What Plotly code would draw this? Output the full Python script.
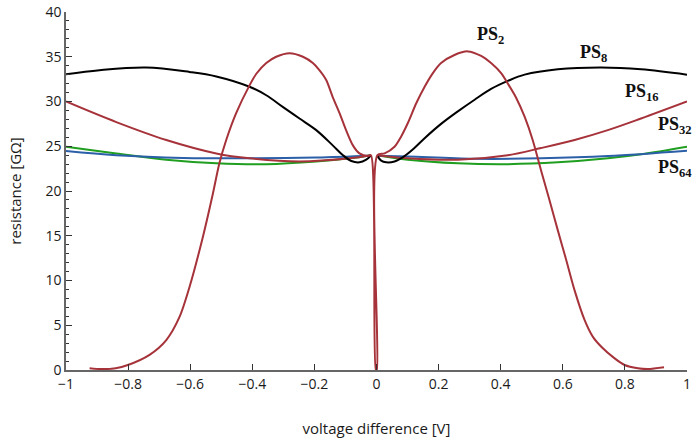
import plotly.graph_objects as go

# ---- data ----
ps2_x = [-0.924, -0.886, -0.84, -0.801, -0.731, -0.677, -0.634, -0.602, -0.559, -0.527, -0.506, -0.484,
         -0.452, -0.409, -0.387, -0.355, -0.323, -0.28, -0.237, -0.205, -0.184, -0.162, -0.141, -0.119,
         -0.098, -0.076, -0.055, -0.028, -0.018, -0.002, 0.001, 0.003,
         0.026, 0.058, 0.0795, 0.101, 0.128, 0.155, 0.181, 0.208, 0.251, 0.294, 0.337, 0.369, 0.402,
         0.423, 0.450, 0.477, 0.503, 0.530, 0.557, 0.584, 0.611, 0.638, 0.670, 0.697, 0.724, 0.767,
         0.799, 0.842, 0.874, 0.926]
ps2_y = [0.2, 0.1, 0.2, 0.56, 1.7, 3.35, 5.96, 9.3, 14.9, 19.7, 23.1, 25.7,
         28.7, 31.8, 33.1, 34.3, 35.0, 35.4, 35.0, 34.3, 33.5, 32.4, 30.5, 28.7,
         26.8, 25.1, 24.2, 23.9, 24.0, 0.0, 0.0, 24.0,
         24.2, 24.95, 26.1, 27.6, 29.8, 31.65, 33.15, 34.3, 35.2, 35.6, 35.1, 34.3, 33.15,
         32.0, 30.4, 28.3, 25.7, 22.3, 19.0, 15.6, 12.3, 8.9, 5.6, 3.7, 2.6, 1.3,
         0.56, 0.19, 0.1, 0.3]

ps8_x = [-1.0, -0.892, -0.742, -0.602, -0.516, -0.409, -0.355, -0.302, -0.248, -0.194, -0.141, -0.108,
         -0.081, -0.055, -0.033, -0.018,
         None,
         0.002, 0.015, 0.031, 0.058, 0.090, 0.122, 0.155, 0.208, 0.262, 0.316, 0.369, 0.423, 0.477,
         0.584, 0.724, 0.852, 1.0]
ps8_y = [33.04, 33.5, 33.8, 33.3, 32.8, 31.65, 30.7, 29.4, 28.1, 26.8, 25.1, 24.0,
         23.35, 23.2, 23.5, 23.95,
         None,
         23.95, 23.4, 23.2, 23.3, 23.9, 24.8, 25.9, 27.5, 28.9, 30.2, 31.4, 32.3, 33.0,
         33.6, 33.8, 33.6, 33.0]

ps16_x = [-1.0, -0.838, -0.677, -0.516, -0.409, -0.248, -0.087, -0.018,
          None,
          0.002, 0.101, 0.262, 0.423, 0.530, 0.638, 0.745, 0.852, 1.0]
ps16_y = [30.0, 27.7, 25.7, 24.2, 23.65, 23.3, 23.65, 24.0,
          None,
          24.0, 23.65, 23.5, 24.0, 24.8, 25.7, 26.8, 28.1, 30.0]

ps32_x = [-1.0, -0.838, -0.677, -0.516, -0.355, -0.194, -0.087, -0.018,
          None,
          0.002, 0.101, 0.262, 0.423, 0.584, 0.745, 0.852, 1.0]
ps32_y = [24.95, 24.2, 23.5, 23.1, 23.0, 23.3, 23.65, 24.0,
          None,
          24.0, 23.5, 23.1, 23.0, 23.2, 23.65, 24.1, 24.95]

ps64_x = [-1.0, -0.838, -0.623, -0.409, -0.194, -0.018,
          None,
          0.002, 0.101, 0.316, 0.530, 0.745, 1.0]
ps64_y = [24.47, 24.0, 23.7, 23.65, 23.75, 23.95,
          None,
          23.95, 23.85, 23.6, 23.65, 23.9, 24.5]

labels = ["PS<sub>2</sub>", "PS<sub>8</sub>", "PS<sub>16</sub>", "PS<sub>32</sub>", "PS<sub>64</sub>"]

RED = "#a6323a"
BLACK = "#000000"
GREEN = "#1f9e1f"
BLUE = "#2b5fa8"

fig = go.Figure()
fig.add_trace(go.Scatter(x=ps32_x, y=ps32_y, mode="lines", line=dict(color=GREEN, width=2, shape="spline", smoothing=1.0)))
fig.add_trace(go.Scatter(x=ps64_x, y=ps64_y, mode="lines", line=dict(color=BLUE, width=2, shape="spline", smoothing=1.0)))
fig.add_trace(go.Scatter(x=ps16_x, y=ps16_y, mode="lines", line=dict(color=RED, width=2, shape="spline", smoothing=1.0)))
fig.add_trace(go.Scatter(x=ps8_x, y=ps8_y, mode="lines", line=dict(color=BLACK, width=2, shape="spline", smoothing=1.0)))
fig.add_trace(go.Scatter(x=ps2_x, y=ps2_y, mode="lines", line=dict(color=RED, width=2, shape="spline", smoothing=0.8)))

# label positions in paper coordinates
label_pos = [(0.683, 0.933), (0.850, 0.885), (0.928, 0.774), (0.981, 0.684), (0.981, 0.564)]
for txt, (lx, ly) in zip(labels, label_pos):
    fig.add_annotation(x=lx, y=ly, xref="paper", yref="paper", text="<b>" + txt + "</b>", showarrow=False,
                       xanchor="center", yanchor="middle",
                       font=dict(family="Liberation Serif", size=18, color="#111111"))

tick_font = dict(family="Open Sans", size=14, color="#1a1a1a")
title_font = dict(family="Open Sans", size=15, color="#1a1a1a")
fig.update_layout(
    width=695, height=438,
    margin=dict(l=66, r=8, t=12, b=68, autoexpand=False),
    paper_bgcolor="white", plot_bgcolor="white",
    showlegend=False,
    font=tick_font,
    xaxis=dict(range=[-1, 1], dtick=0.2, tick0=-1, showgrid=False, zeroline=False,
               showline=True, linecolor="#666666", linewidth=1.5, automargin=False,
               ticks="inside", ticklen=6, tickcolor="#333333", tickwidth=1,
               ticklabeloverflow="allow", tickfont=tick_font,
               title=dict(text="voltage difference [V]", font=title_font, standoff=34)),
    yaxis=dict(range=[0, 40], dtick=5, showgrid=False, zeroline=False,
               showline=True, linecolor="#666666", linewidth=1.5, automargin=False,
               ticks="inside", ticklen=6, tickcolor="#333333", tickwidth=1,
               minor=dict(dtick=1, ticks="inside", ticklen=3, tickcolor="#333333", showgrid=False),
               ticklabeloverflow="allow", tickfont=tick_font,
               title=dict(text="resistance [GΩ]", font=title_font, standoff=20)),
)

# remove the default 8px page margin so the figure fills the window exactly
fig.write_html("out.html", config={"displayModeBar": False},
               post_script="document.body.style.margin='0px';")
